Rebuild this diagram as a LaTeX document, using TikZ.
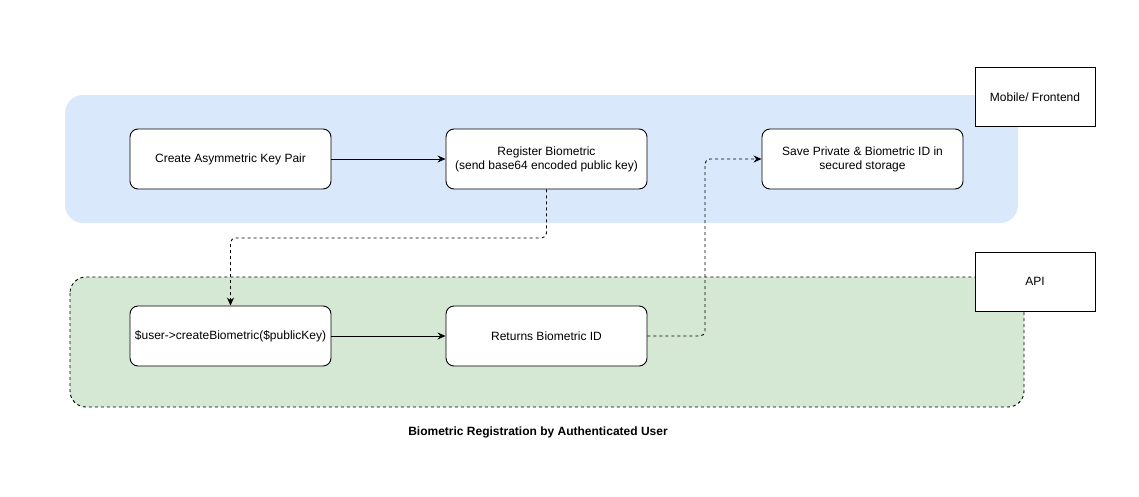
\documentclass[tikz,border=0pt]{standalone}
\usepackage{fontspec}
\setmainfont{Liberation Sans}
\usetikzlibrary{arrows.meta}
\definecolor{laneblue}{HTML}{DAE8FC}
\definecolor{lanegreen}{HTML}{D5E8D4}
\begin{document}
\begin{tikzpicture}[x=1pt,y=-1pt,
  every node/.style={font=\fontsize{12}{14}\selectfont},
  stepbox/.style={draw=black,fill=white,rounded corners=8pt,line width=0.9pt,
    minimum width=201pt,minimum height=60pt,align=center,inner sep=2pt},
  tagbox/.style={draw=black,fill=white,line width=0.9pt,
    minimum width=120pt,minimum height=59pt,inner sep=2pt},
  flow/.style={line width=0.9pt,-{Stealth[length=8pt,width=7pt]}},
  dflow/.style={flow,dash pattern=on 3pt off 3pt,rounded corners=5pt}]
\useasboundingbox (0,0) rectangle (1139,496);
% swimlanes
\fill[laneblue] (65,95) [rounded corners=18pt] rectangle (1018,223);
\draw[fill=lanegreen,line width=0.9pt,dash pattern=on 3pt off 3pt,rounded corners=16pt]
  (70,277) rectangle (1024,407);
\node[tagbox] (mob) at (1035,97) {Mobile/ Frontend};
\node[tagbox] (api) at (1035,281.5) {API};
% steps
\node[stepbox] (keys) at (230.5,159) {Create Asymmetric Key Pair};
\node[stepbox] (reg) at (546.5,159) {Register Biometric\\(send base64 encoded public key)};
\node[stepbox] (save) at (862.5,159) {Save Private \& Biometric ID in\\secured storage};
\node[stepbox] (create) at (230.5,336) {\$user->createBiometric(\$publicKey)};
\node[stepbox] (ret) at (546.5,336) {Returns Biometric ID};
% connectors
\draw[flow] (keys) -- (reg);
\draw[flow] (create) -- (ret);
\draw[dflow] (reg.south) -- (546.5,238) -- (230.5,238) -- (create.north);
\draw[dflow] (ret.east) -- (705,336) -- (705,159) -- (save.west);
\node[font=\bfseries\fontsize{12}{14}\selectfont] (title) at (538,432)
  {Biometric Registration by Authenticated User};
\end{tikzpicture}
\end{document}
